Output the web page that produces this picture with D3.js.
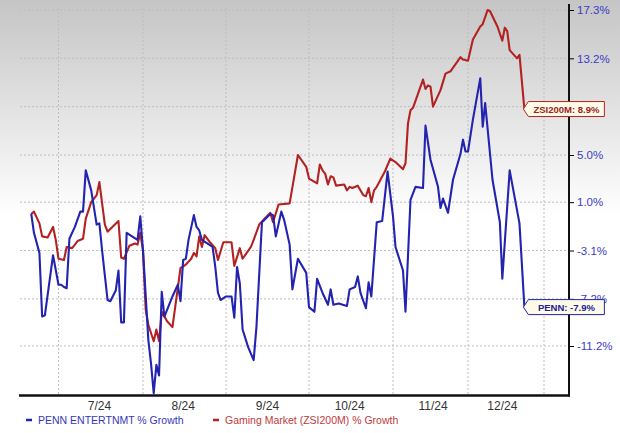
<!DOCTYPE html>
<html><head><meta charset="utf-8">
<script src="https://cdn.jsdelivr.net/npm/d3@7/dist/d3.min.js"></script>
<style>body{margin:0;background:#fff}svg{display:block;font-family:"Liberation Sans",Arial,sans-serif}</style>
</head><body><svg id="c" width="620" height="433"></svg>
<script>
const pennDates=["2024-06-21","2024-06-22","2024-06-24","2024-06-25","2024-06-26","2024-06-29","2024-07-01","2024-07-02","2024-07-03","2024-07-04","2024-07-05","2024-07-07","2024-07-09","2024-07-10","2024-07-11","2024-07-13","2024-07-15","2024-07-16","2024-07-17","2024-07-19","2024-07-20","2024-07-22","2024-07-23","2024-07-24","2024-07-25","2024-07-26","2024-07-28","2024-07-30","2024-07-31","2024-08-01","2024-08-03","2024-08-04","2024-08-05","2024-08-06","2024-08-07","2024-08-08","2024-08-09","2024-08-12","2024-08-14","2024-08-15","2024-08-16","2024-08-17","2024-08-18","2024-08-20","2024-08-21","2024-08-22","2024-08-23","2024-08-27","2024-08-28","2024-08-29","2024-08-30","2024-09-01","2024-09-03","2024-09-04","2024-09-05","2024-09-06","2024-09-07","2024-09-09","2024-09-11","2024-09-12","2024-09-14","2024-09-17","2024-09-18","2024-09-19","2024-09-21","2024-09-22","2024-09-24","2024-09-25","2024-09-27","2024-09-30","2024-10-01","2024-10-03","2024-10-04","2024-10-06","2024-10-08","2024-10-09","2024-10-10","2024-10-12","2024-10-15","2024-10-16","2024-10-18","2024-10-19","2024-10-20","2024-10-22","2024-10-23","2024-10-24","2024-10-26","2024-10-28","2024-10-30","2024-11-01","2024-11-02","2024-11-05","2024-11-06","2024-11-08","2024-11-10","2024-11-13","2024-11-14","2024-11-16","2024-11-19","2024-11-20","2024-11-21","2024-11-23","2024-11-25","2024-11-28","2024-11-29","2024-11-30","2024-12-01","2024-12-03","2024-12-06","2024-12-07","2024-12-08","2024-12-11","2024-12-14","2024-12-15","2024-12-18","2024-12-22","2024-12-24"];
const pennValues=[0.0,-1.6,-3.3,-8.7,-8.6,-3.5,-6.0,-6.0,-6.2,-6.3,-2.1,-1.1,0.2,0.2,3.7,2.0,-0.9,-0.8,-3.1,-7.3,-7.4,-6.5,-4.8,-9.2,-9.2,-1.6,-1.9,-2.2,-0.2,-3.1,-10.7,-12.7,-15.2,-12.8,-13.7,-6.6,-8.7,-7.0,-6.0,-7.4,-3.9,-3.8,-2.2,-0.1,-1.1,-1.4,-2.2,-2.8,-4.5,-6.7,-7.3,-7.0,-7.0,-8.8,-4.5,-5.9,-9.8,-11.3,-12.4,-9.6,-0.7,0.0,-0.1,-1.9,0.2,-0.5,-2.6,-6.4,-3.8,-5.0,-7.9,-8.3,-5.5,-6.7,-7.7,-6.4,-7.7,-7.6,-7.8,-6.4,-6.2,-5.3,-6.7,-8.0,-5.8,-7.0,-0.7,-0.6,3.6,-0.2,-2.8,-4.8,-8.3,1.2,2.3,2.2,7.5,4.6,2.3,0.5,1.3,0.1,2.9,5.1,6.3,5.3,5.3,8.0,11.5,7.4,9.4,2.9,-0.7,-5.5,3.7,-0.8,-7.9];
const zsiDates=["2024-06-21","2024-06-22","2024-06-24","2024-06-25","2024-06-27","2024-06-29","2024-06-30","2024-07-01","2024-07-03","2024-07-04","2024-07-06","2024-07-08","2024-07-10","2024-07-11","2024-07-13","2024-07-15","2024-07-16","2024-07-18","2024-07-19","2024-07-23","2024-07-24","2024-07-25","2024-07-27","2024-07-29","2024-07-30","2024-07-31","2024-08-01","2024-08-02","2024-08-03","2024-08-05","2024-08-06","2024-08-07","2024-08-08","2024-08-10","2024-08-12","2024-08-15","2024-08-17","2024-08-19","2024-08-20","2024-08-21","2024-08-22","2024-08-23","2024-08-24","2024-08-26","2024-08-28","2024-08-29","2024-08-31","2024-09-03","2024-09-04","2024-09-06","2024-09-07","2024-09-10","2024-09-11","2024-09-13","2024-09-17","2024-09-18","2024-09-20","2024-09-24","2024-09-27","2024-09-30","2024-10-01","2024-10-04","2024-10-05","2024-10-06","2024-10-07","2024-10-08","2024-10-09","2024-10-10","2024-10-11","2024-10-14","2024-10-15","2024-10-16","2024-10-17","2024-10-19","2024-10-21","2024-10-22","2024-10-23","2024-10-24","2024-10-25","2024-10-26","2024-10-29","2024-10-31","2024-11-02","2024-11-05","2024-11-06","2024-11-07","2024-11-08","2024-11-09","2024-11-13","2024-11-14","2024-11-15","2024-11-16","2024-11-17","2024-11-20","2024-11-22","2024-11-24","2024-11-28","2024-11-29","2024-12-01","2024-12-03","2024-12-06","2024-12-07","2024-12-09","2024-12-10","2024-12-13","2024-12-15","2024-12-16","2024-12-17","2024-12-18","2024-12-21","2024-12-22","2024-12-24"];
const zsiValues=[0.0,0.2,-0.8,-1.9,-2.0,-1.1,-2.2,-3.8,-3.9,-2.8,-2.9,-2.3,-2.1,-0.4,1.0,1.6,2.7,-0.9,-1.5,-0.6,-3.7,-3.8,-2.7,-2.5,-2.6,-1.6,-3.1,-8.1,-9.4,-10.8,-9.8,-10.8,-8.3,-9.1,-9.6,-4.6,-4.3,-3.8,-3.3,-3.6,-1.9,-2.8,-1.8,-2.4,-2.9,-3.9,-2.4,-2.4,-4.4,-2.9,-3.8,-2.8,-2.2,-0.9,0.1,-0.7,0.8,0.9,5.0,4.0,3.0,2.6,4.2,3.7,3.4,2.5,3.2,3.1,2.4,2.5,2.0,2.3,2.2,2.4,1.6,1.5,2.2,1.0,2.0,2.3,3.6,4.7,4.4,3.8,4.3,7.7,8.8,9.0,11.4,10.6,10.9,10.8,9.1,10.5,11.9,12.1,13.3,13.1,13.0,14.8,15.9,16.1,17.3,17.2,15.9,14.7,15.8,15.5,13.9,13.2,13.5,8.9];
const monthStarts=["2024-07-01","2024-08-01","2024-09-01","2024-10-01","2024-11-01","2024-12-01","2025-01-01"];
const monthLabels=["7/24","8/24","9/24","10/24","11/24","12/24"];
const monthLabelDates=["2024-07-16","2024-08-16","2024-09-16","2024-10-16","2024-11-17","2024-12-15"];
const yGrid=[17.3,13.2,9.1,5.0,1.0,-3.1,-7.2,-11.2];
const yTickLabels=[17.3,13.2,5.0,1.0,-3.1,-7.2,-11.2];
const seriesNames=["PENN ENTERTNMT % Growth","Gaming Market (ZSI200M) % Growth"];
const endNames=["PENN","ZSI200M"];
const colors=["#2323b0","#b32222"];

const parse=d3.timeParse("%Y-%m-%d");
const svg=d3.select("#c");
const W=620,H=433,L=20,R=569,B=395.5,T=4;
const x=d3.scaleTime().domain(monthStarts.map(parse)).range([58.5,143,226,309,393,468,544]);
const y=d3.scaleLinear().domain([-11.2,17.3]).range([346,10]);

const defs=svg.append("defs");
const g=defs.append("linearGradient").attr("id","bg").attr("x1",0).attr("y1",0).attr("x2",0).attr("y2",1);
g.append("stop").attr("offset","0%").attr("stop-color","#c5c5c5");
g.append("stop").attr("offset","50%").attr("stop-color","#ffffff");
g.append("stop").attr("offset","100%").attr("stop-color","#ffffff");
svg.append("rect").attr("width",W).attr("height",H).attr("fill","url(#bg)");

// grid
svg.append("g").selectAll("line").data(yGrid).join("line")
  .attr("x1",L).attr("x2",R).attr("y1",d=>y(d)).attr("y2",d=>y(d))
  .attr("stroke","#bdbdbd").attr("stroke-dasharray","2,2").attr("stroke-width",1);
svg.append("g").selectAll("line").data(monthStarts.map(parse)).join("line")
  .attr("x1",d=>x(d)).attr("x2",d=>x(d)).attr("y1",8).attr("y2",B)
  .attr("stroke","#bdbdbd").attr("stroke-dasharray","2,2").attr("stroke-width",1);

// lines
const series=[
  {dates:pennDates,values:pennValues},
  {dates:zsiDates,values:zsiValues}
];
const line=d3.line().x(d=>x(d[0])).y(d=>y(d[1]));
[1,0].forEach(i=>{
  const s=series[i];
  const pts=s.dates.map((d,k)=>[parse(d),s.values[k]]);
  svg.append("path").datum(pts).attr("d",line).attr("fill","none")
    .attr("stroke",colors[i]).attr("stroke-width",2.1).attr("stroke-linejoin","round");
});

// axes
const ay=svg.append("g").attr("transform",`translate(${R},0)`)
  .call(d3.axisRight(y).tickValues(yTickLabels).tickSize(5).tickPadding(3).tickFormat(d=>d.toFixed(1)+"%"));
ay.select(".domain").remove();
ay.selectAll(".tick line").attr("stroke","#000");
ay.selectAll(".tick text").attr("fill","#3b3bc4").style("font-size","11.5px").style("font-family","'Liberation Sans',Arial,sans-serif");
svg.append("line").attr("x1",R).attr("x2",R).attr("y1",T).attr("y2",B+1).attr("stroke","#111").attr("stroke-width",2);
svg.append("line").attr("x1",L-1).attr("x2",R+1).attr("y1",B).attr("y2",B).attr("stroke","#111").attr("stroke-width",2.5);

svg.append("g").selectAll("text").data(monthLabels).join("text")
  .attr("x",(d,i)=>x(parse(monthLabelDates[i]))).attr("y",409.5)
  .attr("text-anchor","middle").attr("fill","#333").style("font-size","12px").text(d=>d);

// legend
const legX=[26,213];
seriesNames.forEach((n,i)=>{
  svg.append("line").attr("x1",legX[i]).attr("x2",legX[i]+6).attr("y1",420).attr("y2",420)
    .attr("stroke",colors[i]).attr("stroke-width",2.5);
  svg.append("text").attr("x",legX[i]+12).attr("y",424).attr("fill",i?"#c03a3a":"#3636b8")
    .style("font-size","10.5px").text(n);
});

// end labels
series.forEach((s,i)=>{
  const v=s.values[s.values.length-1];
  const px=x(parse(s.dates[s.dates.length-1]))-1, py=y(v);
  const h=15,w=76,a=5;
  const gl=svg.append("g");
  gl.append("path").attr("d",`M${px},${py} L${px+a},${py-h/2} L${px+a+w},${py-h/2} L${px+a+w},${py+h/2} L${px+a},${py+h/2} Z`)
    .attr("fill","#fdfbe8").attr("stroke",colors[i]).attr("stroke-width",1);
  gl.append("text").attr("x",px+a+w/2).attr("y",py+3.5).attr("text-anchor","middle")
    .attr("fill",i?"#a01c1c":"#20209a").style("font-size","9.5px").style("font-weight","bold")
    .text(`${endNames[i]}: ${v.toFixed(1)}%`);
});
</script></body></html>
